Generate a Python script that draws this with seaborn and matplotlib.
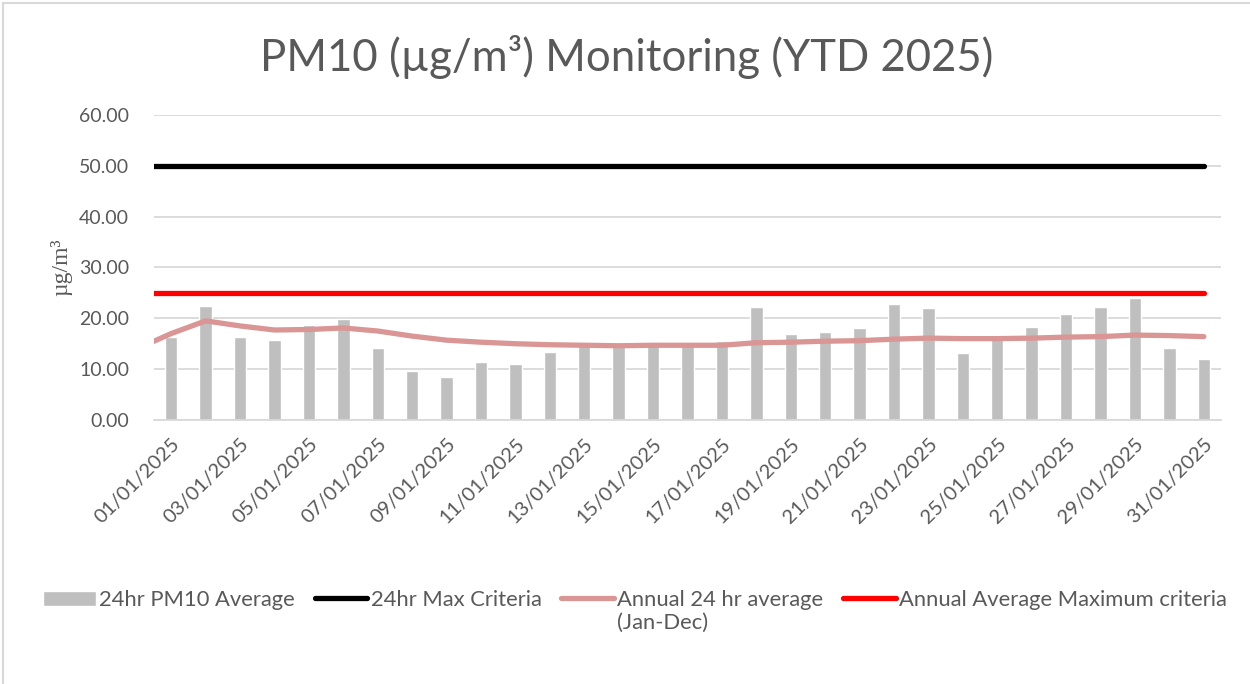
import numpy as np
import pandas as pd
import matplotlib
matplotlib.use("Agg")
import matplotlib.pyplot as plt
import seaborn as sns
from matplotlib.patches import Rectangle

# ---------------- data ----------------
dates = [f"{d:02d}/01/2025" for d in range(1, 32)]
pm10_24hr = [16.4, 22.4, 16.4, 15.7, 18.6, 19.9, 14.2, 9.7, 8.5, 11.5,
             11.0, 13.3, 14.5, 14.6, 15.4, 14.5, 15.6, 22.3, 17.0, 17.4,
             18.0, 22.8, 22.0, 13.2, 16.8, 18.2, 20.8, 22.2, 23.9, 14.1, 11.9]
# running annual average; first value is the carry-in point for 31/12/2024
annual_dates = ["31/12/2024"] + dates
annual_avg = [14.0, 17.0, 19.5, 18.5, 17.7, 17.8, 18.1, 17.5, 16.5, 15.7, 15.3,
              15.0, 14.8, 14.7, 14.6, 14.7, 14.7, 14.7, 15.2, 15.3, 15.5,
              15.6, 15.9, 16.1, 16.0, 16.0, 16.1, 16.3, 16.4, 16.7, 16.6, 16.4]
max_24hr_criteria = 50.0
annual_max_criteria = 25.0
yticks = [0, 10, 20, 30, 40, 50, 60]
xtick_labels = dates[::2]

title = "PM10 (µg/m³) Monitoring (YTD 2025)"
ylabel = "µg/m³"
labels = ["24hr PM10 Average", "24hr Max Criteria",
          "Annual 24 hr average", "Annual Average Maximum criteria"]
label_extra = "(Jan-Dec)"

# ---------------- style ----------------
sns.set_theme(style="white")
plt.rcParams["font.family"] = ["Lato", "DejaVu Sans"]
grey_txt = "#595959"
W, H = 1250, 684

fig = plt.figure(figsize=(12.5, 6.84), dpi=100)
ax = fig.add_axes([0.1232, 0.386, 0.8536, 0.4459])

df = pd.DataFrame({"date": dates, "pm10": pm10_24hr})
sns.barplot(data=df, x="date", y="pm10", color="#bfbfbf", saturation=1,
            width=0.36, ax=ax, zorder=2, label=labels[0])

pos_bars = np.arange(len(dates))
pos_annual = np.arange(len(annual_dates)) - 1

sns.lineplot(x=pos_annual, y=[max_24hr_criteria] * len(annual_dates), ax=ax,
             color="black", lw=3.8, solid_capstyle="round", zorder=4, label=labels[1])
sns.lineplot(x=pos_annual, y=annual_avg, ax=ax, color="#d99694", lw=3.8,
             solid_capstyle="round", solid_joinstyle="round", zorder=3, label=labels[2])
sns.lineplot(x=pos_annual, y=[annual_max_criteria] * len(annual_dates), ax=ax,
             color="#ff0000", lw=3.8, solid_capstyle="round", zorder=4, label=labels[3])

ax.set_xlim(-0.5, len(dates) - 0.5)
ax.set_ylim(0, 60)
ax.set_yticks(yticks)
ax.set_yticklabels([f"{v:.2f}" for v in yticks], fontsize=14, color=grey_txt)
ax.set_xticks(pos_bars[::2])
ax.set_xticklabels(xtick_labels, rotation=45, ha="right", va="top",
                   rotation_mode="anchor", fontsize=14.5, color=grey_txt)
ax.tick_params(axis="both", length=0)
ax.tick_params(axis="x", pad=11)
ax.tick_params(axis="y", pad=18)
ax.yaxis.grid(True, color="#d9d9d9", lw=1.3, zorder=0)
ax.set_axisbelow(True)
for s in ["top", "right", "left"]:
    ax.spines[s].set_visible(False)
ax.spines["bottom"].set_color("#d9d9d9")
ax.spines["bottom"].set_linewidth(1.3)
ax.set_xlabel("")
ax.set_ylabel(ylabel, family=["Liberation Serif", "DejaVu Serif"], fontsize=17,
              color=grey_txt, labelpad=5)

fig.suptitle(title, x=0.5016, y=1 - 57 / H, fontsize=31.5, color=grey_txt,
             va="center", fontweight="normal")

handles, labs = ax.get_legend_handles_labels()
if ax.get_legend():
    ax.get_legend().remove()
order = [labs.index(l) for l in labels]
handles = [handles[i] for i in order]
leg = fig.legend(handles, labels, loc="center", bbox_to_anchor=(0.508, 1 - 600 / H),
                 ncol=4, frameon=False, fontsize=15.8, labelcolor=grey_txt,
                 handlelength=2.4, handletextpad=0.15, columnspacing=0.9,
                 borderaxespad=0, borderpad=0)

fig.canvas.draw()
bb = leg.get_texts()[2].get_window_extent()
fig.text(bb.x0 / W, (bb.y0 - 3) / H, label_extra, ha="left", va="top",
         fontsize=15.8, color=grey_txt)

fig.patches.append(Rectangle((3 / W, -0.1), 1.2, 1 - 3 / H + 0.1,
                             transform=fig.transFigure, fill=False,
                             edgecolor="#d9d9d9", lw=1.5))

fig.savefig("out.png", dpi=100)
